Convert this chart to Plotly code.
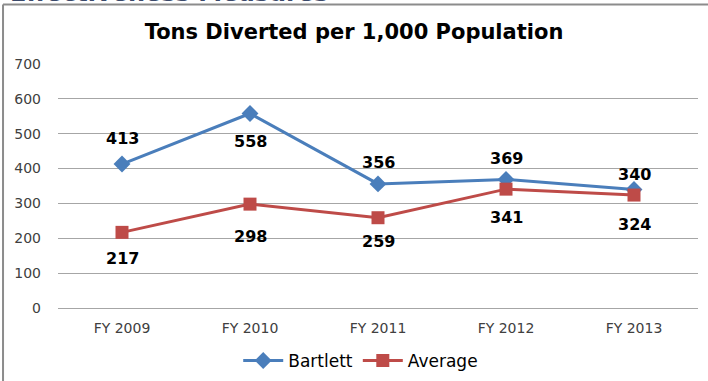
import plotly.graph_objects as go

categories = ["FY 2009", "FY 2010", "FY 2011", "FY 2012", "FY 2013"]
bartlett = [413, 558, 356, 369, 340]
average = [217, 298, 259, 341, 324]
y_ticks = [0, 100, 200, 300, 400, 500, 600, 700]

# label pixel offsets (style)
bartlett_shift = [26, -28, 21, 21, 15]
average_shift = [-26, -32, -24, -28, -29]

BLUE = "#4a7ebb"
RED = "#be4b48"
FONT = "DejaVu Sans"

fig = go.Figure()
fig.add_trace(go.Scatter(
    x=categories, y=bartlett, name="Bartlett", mode="lines+markers",
    line=dict(color=BLUE, width=3),
    marker=dict(symbol="diamond", size=13, color=BLUE),
))
fig.add_trace(go.Scatter(
    x=categories, y=average, name="Average", mode="lines+markers",
    line=dict(color=RED, width=3),
    marker=dict(symbol="square", size=13, color=RED),
))

annotations = []
for c, v, s in zip(categories, bartlett, bartlett_shift):
    annotations.append(dict(x=c, y=v, text=str(v), showarrow=False, yshift=s,
                            font=dict(family=FONT, size=16, color="#000000", weight="bold")))
for c, v, s in zip(categories, average, average_shift):
    annotations.append(dict(x=c, y=v, text=str(v), showarrow=False, yshift=s,
                            font=dict(family=FONT, size=16, color="#000000", weight="bold")))

# partially cut heading of the slide above the chart
annotations.append(dict(xref="paper", yref="paper", x=-0.078, y=1.226, xanchor="left", yanchor="bottom",
                        text="<b>Effectiveness Measures</b>", showarrow=False,
                        font=dict(family=FONT, size=24, color="#3b4a6b")))

fig.update_layout(
    width=708, height=381,
    margin=dict(l=58, r=10, t=64, b=73, autoexpand=False),
    paper_bgcolor="white", plot_bgcolor="white",
    title=dict(text="<b>Tons Diverted per 1,000 Population</b>", x=0.5, xanchor="center",
               xref="container", yref="container",
               y=0.918, yanchor="middle",
               font=dict(family=FONT, size=21, color="#000000")),
    font=dict(family=FONT, color="#404040"),
    showlegend=True,
    legend=dict(orientation="h", x=0.473, xanchor="center", y=-0.217, yanchor="middle",
                font=dict(family=FONT, size=17, color="#000000"),
                itemwidth=40, tracegroupgap=0),
    annotations=annotations,
    shapes=[
        dict(type="line", xref="paper", yref="paper", x0=-0.0859, x1=-0.0859, y0=-0.4, y1=1.244,
             line=dict(color="#8c8c8c", width=2)),
        dict(type="line", xref="paper", yref="paper", x0=-0.0859, x1=1.1, y0=1.244, y1=1.244,
             line=dict(color="#8c8c8c", width=2)),
    ],
)
fig.update_xaxes(type="category", range=[-0.5, 4.5], showgrid=False, showline=False, ticks="",
                 automargin=False, ticklabelstandoff=10,
                 tickfont=dict(family=FONT, size=14, color="#404040"))
fig.update_yaxes(range=[0, 700], tickvals=y_ticks, showgrid=True, gridcolor="#a6a6a6", gridwidth=1,
                 zeroline=True, zerolinecolor="#a6a6a6", zerolinewidth=1, showline=False,
                 ticks="", ticklabelstandoff=16, automargin=False,
                 tickfont=dict(family=FONT, size=14, color="#404040"))

fig.write_html("out.html", config={"displayModeBar": False},
               post_script="document.body.style.margin='0';")
